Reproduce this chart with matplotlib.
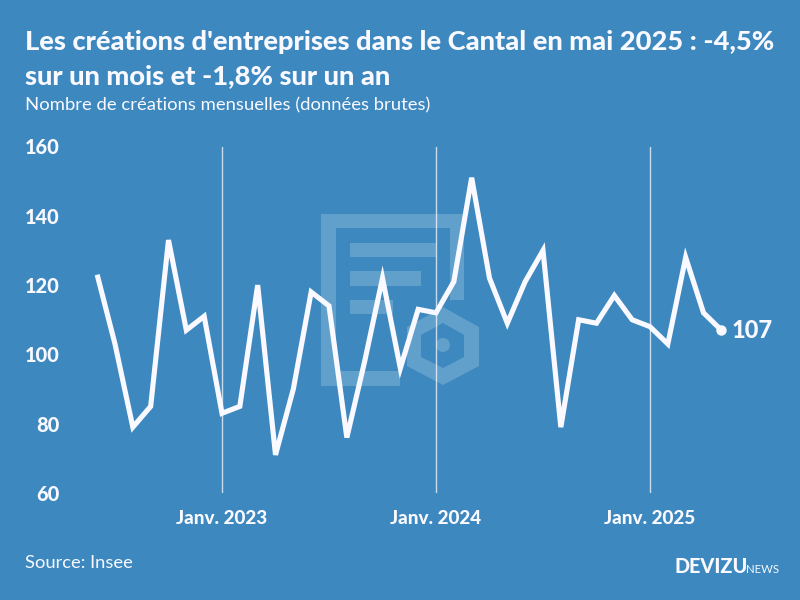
import matplotlib
matplotlib.use("Agg")
import matplotlib.pyplot as plt
from matplotlib.patches import Polygon, Circle
from matplotlib.ticker import FixedLocator, FixedFormatter

plt.rcParams["font.family"] = ["Lato", "DejaVu Sans"]

# Monthly values, June 2022 to May 2025
months = list(range(36))
creations = [123, 103, 79, 85, 133, 107, 111,
             83, 85, 120, 71, 90, 118, 114, 76, 98, 122, 96, 113,
             112, 121, 151, 122, 109, 121, 130, 79, 110, 109, 117, 110,
             108, 103, 128, 112, 107]
x_ticks = [7, 19, 31]
x_labels = ["Janv. 2023", "Janv. 2024", "Janv. 2025"]
y_ticks = [60, 80, 100, 120, 140, 160]

BG = "#3c88bf"
MARK = "#62a0cc"
WHITE = "#f9f9ff"
W, H = 800, 600

fig = plt.figure(figsize=(8, 6), dpi=100, facecolor=BG)

# --- watermark, in pixels from the top left ---
bg_ax = fig.add_axes([0, 0, 1, 1], zorder=0)
bg_ax.set_xlim(0, W)
bg_ax.set_ylim(H, 0)
bg_ax.axis("off")
doc_shapes = [
    [(321, 214), (464, 214), (464, 300), (450, 300), (450, 228), (336, 228),
     (336, 371), (400, 371), (400, 386), (321, 386)],
    [(350, 243), (436, 243), (436, 257), (350, 257)],
    [(350, 271), (421, 271), (421, 286), (350, 286)],
    [(350, 300), (393, 300), (393, 314), (350, 314)],
]
for shape in doc_shapes:
    bg_ax.add_patch(Polygon(shape, closed=True, fc=MARK, ec="none"))
hex_outer = [(443, 307), (479, 327), (479, 366), (443, 385), (407, 366), (407, 327)]
hex_inner = [(443, 323), (464, 335), (464, 357), (443, 368), (421, 357), (421, 335)]
bg_ax.add_patch(Polygon(hex_outer, closed=True, fc=MARK, ec="none"))
bg_ax.add_patch(Polygon(hex_inner, closed=True, fc=BG, ec="none"))
bg_ax.add_patch(Circle((443, 345), 7, fc=MARK, ec="none"))

# --- chart ---
left, right, top, bottom = 61, 770, 146.5, 493
ax = fig.add_axes([left / W, 1 - bottom / H, (right - left) / W, (bottom - top) / H], zorder=1)
ax.patch.set_alpha(0)
px_month = (650 - 222) / 24
ax.set_xlim(7 - (222 - left) / px_month, 7 + (right - 222) / px_month)
ax.set_ylim(60, 160)
for s in ax.spines.values():
    s.set_visible(False)

ax.xaxis.set_major_locator(FixedLocator(x_ticks))
ax.xaxis.set_major_formatter(FixedFormatter(x_labels))
ax.set_yticks(y_ticks)
ax.grid(axis="x", color=WHITE, lw=1, alpha=0.75, zorder=1)
ax.tick_params(length=0, labelcolor=WHITE)
ax.tick_params(axis="x", pad=12, labelsize=13.6)
ax.tick_params(axis="y", pad=1, labelsize=14.4)
for lab in ax.get_xticklabels() + ax.get_yticklabels():
    lab.set_fontweight("black")

ax.plot(months, creations, color=WHITE, lw=3.7, solid_joinstyle="miter",
        solid_capstyle="butt", zorder=3)
ax.plot(months[-1], creations[-1], "o", color=WHITE, ms=7.5, mew=0, zorder=4)
ax.annotate(str(creations[-1]), (months[-1], creations[-1]), xytext=(7, 0),
            textcoords="offset points", color=WHITE, fontsize=17, fontweight="black",
            va="center", ha="left")

# --- texts ---
fig.text(25 / W, 1 - 42 / H, "Les créations d'entreprises dans le Cantal en mai 2025 : -4,5%",
         color=WHITE, fontsize=19.6, fontweight="black", va="center")
fig.text(25 / W, 1 - 76 / H, "sur un mois et -1,8% sur un an",
         color=WHITE, fontsize=19.6, fontweight="black", va="center")
fig.text(25 / W, 1 - 105.5 / H, "Nombre de créations mensuelles (données brutes)",
         color=WHITE, fontsize=13.3, va="center")
fig.text(25 / W, 1 - 563 / H, "Source: Insee", color=WHITE, fontsize=13.2, va="center")
fig.text(674 / W, 1 - 573 / H, "DEVIZU", color=WHITE, fontsize=14.3, fontweight="black",
         va="baseline")
fig.text(746 / W, 1 - 573 / H, "NEWS", color=WHITE, fontsize=8.2, fontweight="normal",
         va="baseline")

fig.savefig("out.png", dpi=100, facecolor=BG)
